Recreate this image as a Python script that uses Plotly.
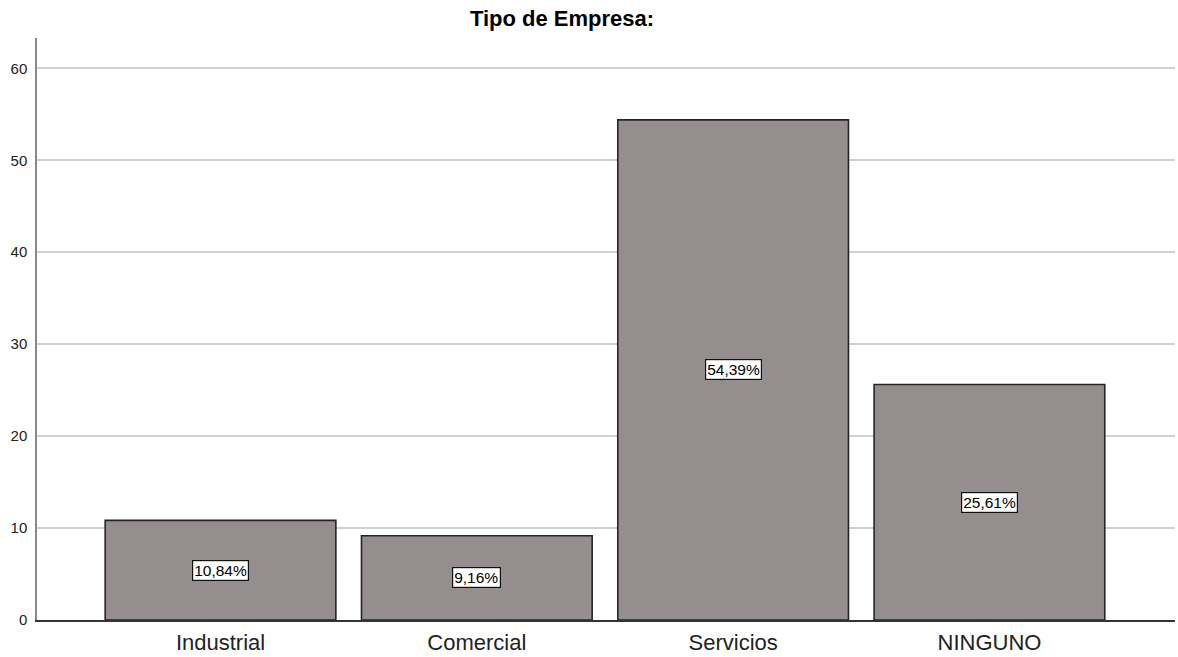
import plotly.graph_objects as go

categories = ["Industrial", "Comercial", "Servicios", "NINGUNO"]
values = [10.84, 9.16, 54.39, 25.61]
labels = ["10,84%", "9,16%", "54,39%", "25,61%"]
y_ticks = [0, 10, 20, 30, 40, 50, 60]

xs = list(range(len(categories)))

fig = go.Figure()
fig.add_trace(go.Bar(
    x=xs, y=values, width=0.9,
    marker=dict(color="#948f8e", line=dict(color="#252525", width=1.6)),
    hoverinfo="skip",
))

for x, v, t in zip(xs, values, labels):
    fig.add_annotation(
        x=x, y=v / 2, text=t, showarrow=False,
        font=dict(family="Arial, Liberation Sans", size=15.5, color="#000"),
        bgcolor="white", bordercolor="#111", borderwidth=1.2, borderpad=1,
    )

fig.update_layout(
    width=1178, height=657,
    margin=dict(l=37, r=3, t=38, b=37, autoexpand=False),
    paper_bgcolor="white", plot_bgcolor="white",
    showlegend=False,
    title=dict(text="<b>Tipo de Empresa:</b>", x=562 / 1178, xanchor="center", y=0.972, yanchor="middle",
               font=dict(family="Arial, Liberation Sans", size=22, color="#000")),
    font=dict(family="Arial, Liberation Sans", color="#222"),
)
fig.update_xaxes(
    range=[-0.716, 3.724], tickvals=xs, ticktext=categories, automargin=False,
    tickfont=dict(size=22, color="#222"), showgrid=False,
    showline=True, linecolor="#333", linewidth=1.5,
    ticks="outside", ticklen=2, tickcolor="rgba(0,0,0,0)", zeroline=False,
)
fig.update_yaxes(
    range=[0, 63.3], tickvals=y_ticks, ticktext=[str(t) for t in y_ticks], automargin=False,
    tickfont=dict(size=15, color="#222"), showgrid=True, gridcolor="#d0d0d0", gridwidth=1.5,
    showline=True, linecolor="#888", linewidth=1.5,
    ticks="outside", ticklen=5, tickcolor="rgba(0,0,0,0)", zeroline=False,
)

fig.write_html(
    "out.html",
    config={"displayModeBar": False},
    post_script="document.body.style.margin='0px';document.body.style.overflow='hidden';",
)
